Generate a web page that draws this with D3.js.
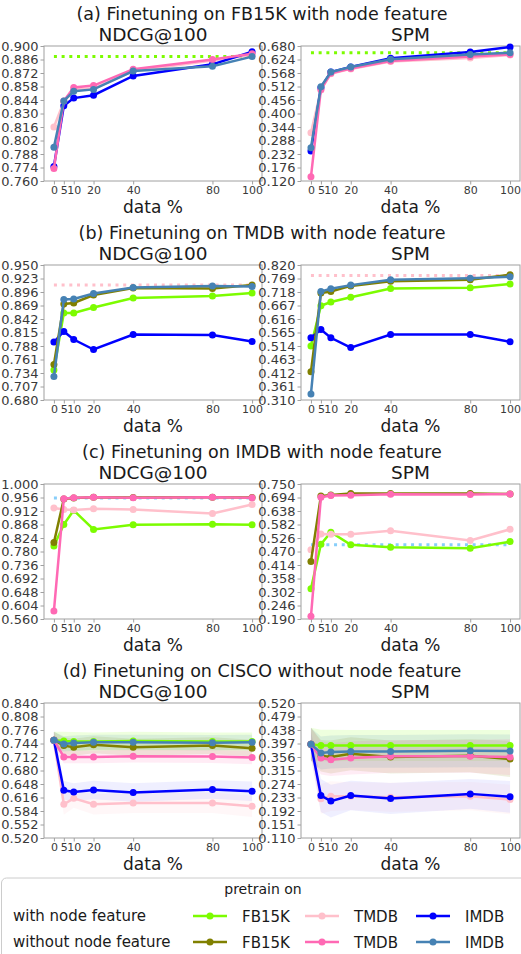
<!DOCTYPE html>
<html>
<head>
<meta charset="utf-8">
<script src="https://cdn.jsdelivr.net/npm/d3@7"></script>
<style>
  body { margin: 0; background: #fff; }
  text { font-family: "DejaVu Sans", sans-serif; }
</style>
</head>
<body>
<svg id="chart" width="521" height="954"></svg>
<script>
//x values and tick labels
var xs = [0, 5, 10, 20, 40, 80, 100];
var xTickLabels = ["0", "5", "10", "20", "40", "80", "100"];

//Panel titles and y ranges
var panelTitles = ["(a) Finetuning on FB15K with node feature",
                   "(b) Finetuning on TMDB with node feature",
                   "(c) Finetuning on IMDB with node feature",
                   "(d) Finetuning on CISCO without node feature"];
var metricNames = ["NDCG@100", "SPM"];
var ndcgRanges = [[0.760, 0.900], [0.680, 0.950], [0.560, 1.000], [0.520, 0.840]];
var spmRanges = [[0.120, 0.680], [0.310, 0.820], [0.190, 0.750], [0.110, 0.520]];

//(a) FB15K
var aNdcgTmdbW = [0.816, 0.842, 0.855, 0.856, 0.874, 0.885, 0.891];
var aNdcgImdbW = [0.775, 0.838, 0.846, 0.849, 0.869, 0.881, 0.894];
var aNdcgTmdbWo = [0.773, 0.843, 0.857, 0.859, 0.876, 0.886, 0.892];
var aNdcgImdbWo = [0.795, 0.843, 0.853, 0.855, 0.874, 0.879, 0.889];
var aNdcgBase = 0.889;
var aSpmTmdbW = [0.320, 0.497, 0.565, 0.585, 0.616, 0.630, 0.643];
var aSpmImdbW = [0.244, 0.507, 0.572, 0.593, 0.629, 0.655, 0.676];
var aSpmTmdbWo = [0.138, 0.500, 0.567, 0.587, 0.618, 0.636, 0.645];
var aSpmImdbWo = [0.258, 0.511, 0.572, 0.593, 0.625, 0.645, 0.652];
var aSpmBase = 0.652;

//(b) TMDB
var bNdcgFbW = [0.740, 0.854, 0.854, 0.865, 0.884, 0.888, 0.894];
var bNdcgImdbW = [0.796, 0.817, 0.801, 0.781, 0.811, 0.810, 0.797];
var bNdcgFbWo = [0.751, 0.872, 0.874, 0.890, 0.904, 0.903, 0.910];
var bNdcgImdbWo = [0.727, 0.881, 0.882, 0.893, 0.905, 0.908, 0.907];
var bNdcgBase = 0.910;
var bSpmFbW = [0.514, 0.666, 0.680, 0.698, 0.731, 0.734, 0.748];
var bSpmImdbW = [0.545, 0.576, 0.545, 0.508, 0.557, 0.557, 0.530];
var bSpmFbWo = [0.417, 0.714, 0.720, 0.741, 0.759, 0.764, 0.783];
var bSpmImdbWo = [0.333, 0.720, 0.730, 0.744, 0.764, 0.770, 0.776];
var bSpmBase = 0.780;

//(c) IMDB
var cNdcgFbW = [0.798, 0.868, 0.914, 0.852, 0.867, 0.869, 0.867];
var cNdcgTmdbW = [0.922, 0.917, 0.915, 0.919, 0.917, 0.904, 0.933];
var cNdcgFbWo = [0.809, 0.951, 0.954, 0.957, 0.956, 0.957, 0.956];
var cNdcgTmdbWo = [0.586, 0.952, 0.955, 0.957, 0.955, 0.957, 0.955];
var cNdcgBase = 0.954;
var cSpmFbW = [0.315, 0.500, 0.550, 0.498, 0.488, 0.484, 0.511];
var cSpmTmdbW = [0.477, 0.543, 0.542, 0.542, 0.556, 0.516, 0.562];
var cSpmFbWo = [0.429, 0.700, 0.704, 0.711, 0.711, 0.711, 0.709];
var cSpmTmdbWo = [0.201, 0.695, 0.702, 0.703, 0.707, 0.706, 0.709];
var cSpmBase = 0.498;

//(d) CISCO, means and spreads
var dNdcgFbW = [0.752, 0.750, 0.749, 0.749, 0.750, 0.749, 0.749];
var dNdcgTmdbW = [0.752, 0.600, 0.614, 0.600, 0.603, 0.603, 0.595];
var dNdcgImdbW = [0.752, 0.633, 0.629, 0.634, 0.628, 0.635, 0.631];
var dNdcgFbWo = [0.752, 0.739, 0.735, 0.741, 0.735, 0.739, 0.733];
var dNdcgTmdbWo = [0.752, 0.712, 0.712, 0.712, 0.714, 0.713, 0.711];
var dNdcgImdbWo = [0.752, 0.743, 0.745, 0.747, 0.747, 0.746, 0.747];
var dNdcgFbWSd = [0.020, 0.022, 0.022, 0.021, 0.022, 0.021, 0.021];
var dNdcgTmdbWSd = [0.020, 0.025, 0.022, 0.024, 0.024, 0.024, 0.025];
var dNdcgImdbWSd = [0.020, 0.022, 0.021, 0.022, 0.022, 0.022, 0.023];
var dNdcgFbWoSd = [0.020, 0.020, 0.020, 0.020, 0.020, 0.020, 0.020];
var dNdcgTmdbWoSd = [0.020, 0.015, 0.015, 0.015, 0.015, 0.015, 0.016];
var dNdcgImdbWoSd = [0.020, 0.018, 0.018, 0.018, 0.018, 0.018, 0.018];
var dSpmFbW = [0.395, 0.391, 0.391, 0.391, 0.391, 0.391, 0.391];
var dSpmTmdbW = [0.395, 0.229, 0.237, 0.237, 0.234, 0.237, 0.227];
var dSpmImdbW = [0.395, 0.239, 0.222, 0.239, 0.230, 0.244, 0.235];
var dSpmFbWo = [0.395, 0.360, 0.356, 0.366, 0.356, 0.360, 0.350];
var dSpmTmdbWo = [0.395, 0.353, 0.348, 0.353, 0.358, 0.358, 0.356];
var dSpmImdbWo = [0.395, 0.368, 0.371, 0.373, 0.373, 0.375, 0.374];
var dSpmFbWSd = [0.050, 0.048, 0.048, 0.047, 0.047, 0.047, 0.047];
var dSpmTmdbWSd = [0.040, 0.045, 0.045, 0.042, 0.044, 0.043, 0.045];
var dSpmImdbWSd = [0.040, 0.050, 0.050, 0.045, 0.047, 0.045, 0.048];
var dSpmFbWoSd = [0.050, 0.048, 0.050, 0.050, 0.050, 0.050, 0.055];
var dSpmTmdbWoSd = [0.050, 0.050, 0.050, 0.050, 0.050, 0.050, 0.055];
var dSpmImdbWoSd = [0.050, 0.050, 0.050, 0.050, 0.050, 0.050, 0.050];

//Series styling
var seriesKeys = ["fbW", "tmdbW", "imdbW", "fbWo", "tmdbWo", "imdbWo"];
var seriesNames = ["FB15K", "TMDB", "IMDB", "FB15K", "TMDB", "IMDB"];
var seriesColors = ["#7cfc00", "#ffc0cb", "#0000ff", "#808000", "#ff69b4", "#4682b4"];
var baseColors = ["#7cfc00", "#ffc0cb", "#87cefa", null];

//Build the panel table from the arrays above
function pack(keys, vals, sds) {
  return keys.map(function (k, i) {
    return { key: k, values: vals[i], sd: sds ? sds[i] : null };
  });
}
var panels = [
  { ndcg: pack(["tmdbW", "imdbW", "tmdbWo", "imdbWo"], [aNdcgTmdbW, aNdcgImdbW, aNdcgTmdbWo, aNdcgImdbWo]),
    spm: pack(["tmdbW", "imdbW", "tmdbWo", "imdbWo"], [aSpmTmdbW, aSpmImdbW, aSpmTmdbWo, aSpmImdbWo]),
    base: [aNdcgBase, aSpmBase] },
  { ndcg: pack(["fbW", "imdbW", "fbWo", "imdbWo"], [bNdcgFbW, bNdcgImdbW, bNdcgFbWo, bNdcgImdbWo]),
    spm: pack(["fbW", "imdbW", "fbWo", "imdbWo"], [bSpmFbW, bSpmImdbW, bSpmFbWo, bSpmImdbWo]),
    base: [bNdcgBase, bSpmBase] },
  { ndcg: pack(["fbW", "tmdbW", "fbWo", "tmdbWo"], [cNdcgFbW, cNdcgTmdbW, cNdcgFbWo, cNdcgTmdbWo]),
    spm: pack(["fbW", "tmdbW", "fbWo", "tmdbWo"], [cSpmFbW, cSpmTmdbW, cSpmFbWo, cSpmTmdbWo]),
    base: [cNdcgBase, cSpmBase] },
  { ndcg: pack(seriesKeys, [dNdcgFbW, dNdcgTmdbW, dNdcgImdbW, dNdcgFbWo, dNdcgTmdbWo, dNdcgImdbWo],
                [dNdcgFbWSd, dNdcgTmdbWSd, dNdcgImdbWSd, dNdcgFbWoSd, dNdcgTmdbWoSd, dNdcgImdbWoSd]),
    spm: pack(seriesKeys, [dSpmFbW, dSpmTmdbW, dSpmImdbW, dSpmFbWo, dSpmTmdbWo, dSpmImdbWo],
                [dSpmFbWSd, dSpmTmdbWSd, dSpmImdbWSd, dSpmFbWoSd, dSpmTmdbWoSd, dSpmImdbWoSd]),
    base: null }
];

//Layout
var svg = d3.select("#chart");
var panelTops = [46, 265, 484, 703],
    plotH = 135,
    colX = [[44, 262], [301, 520]];
var frameColor = "#a0a0a0", tickText = "#3a3a3a";

function colorOf(key) { return seriesColors[seriesKeys.indexOf(key)]; }

panels.forEach(function (p, pi) {
  var top = panelTops[pi];

  //Panel title
  svg.append("text")
    .attr("x", 262).attr("y", top - 26)
    .attr("text-anchor", "middle")
    .style("font-size", "17.5px").style("fill", "#1a1a1a")
    .text(panelTitles[pi]);

  [p.ndcg, p.spm].forEach(function (series, mi) {
    var range = mi == 0 ? ndcgRanges[pi] : spmRanges[pi];
    var left = colX[mi][0], right = colX[mi][1];
    var pad = (right - left) / 22;
    var x = d3.scaleLinear().domain([0, 100]).range([left + pad, right - pad]);
    var y = d3.scaleLinear().domain(range).range([top + plotH, top]);
    var g = svg.append("g");

    //Metric title
    g.append("text")
      .attr("x", (left + right) / 2).attr("y", top - 5)
      .attr("text-anchor", "middle")
      .style("font-size", "18.5px").style("fill", "#1a1a1a")
      .text(metricNames[mi]);

    //Axes
    var yTicks = d3.range(11).map(function (i) { return range[0] + (range[1] - range[0]) * i / 10; });
    var yAxis = g.append("g")
      .attr("transform", "translate(" + left + ",0)")
      .call(d3.axisLeft(y).tickValues(yTicks).tickFormat(d3.format(".3f")).tickSizeOuter(0).tickSize(3.5).tickPadding(2));
    yAxis.selectAll("text").style("font-size", "13px").style("fill", tickText).attr("font-family", null);
    var xAxis = g.append("g")
      .attr("transform", "translate(0," + (top + plotH) + ")")
      .call(d3.axisBottom(x).tickValues(xs).tickFormat(function (d, i) { return xTickLabels[i]; }).tickSizeOuter(0).tickSize(3.5).tickPadding(2));
    xAxis.selectAll("text").style("font-size", "11px").style("fill", tickText).attr("font-family", null);
    g.selectAll(".domain").remove();
    g.selectAll(".tick line").attr("stroke", frameColor);

    g.append("rect")
      .attr("x", left).attr("y", top)
      .attr("width", right - left).attr("height", plotH)
      .attr("fill", "none").attr("stroke", frameColor).attr("stroke-width", 1);

    g.append("text")
      .attr("x", (left + right) / 2).attr("y", top + plotH + 32)
      .attr("text-anchor", "middle")
      .style("font-size", "17px").style("fill", "#1a1a1a")
      .text("data %");

    //Spread bands
    series.forEach(function (s) {
      if (!s.sd) return;
      var area = d3.area()
        .x(function (d, i) { return x(xs[i]); })
        .y0(function (d, i) { return y(d - s.sd[i]); })
        .y1(function (d, i) { return y(d + s.sd[i]); });
      g.append("path").datum(s.values)
        .attr("d", area)
        .attr("fill", colorOf(s.key) == "#0000ff" ? "#8080ff" : colorOf(s.key))
        .attr("fill-opacity", 0.13);
    });

    //Dotted baseline
    if (p.base) {
      g.append("line")
        .attr("x1", x(0)).attr("x2", x(100))
        .attr("y1", y(p.base[mi])).attr("y2", y(p.base[mi]))
        .attr("stroke", baseColors[pi]).attr("stroke-width", 3)
        .attr("stroke-dasharray", "3,4.7");
    }

    //Lines and markers
    var line = d3.line().x(function (d, i) { return x(xs[i]); }).y(function (d) { return y(d); });
    series.forEach(function (s) {
      var c = colorOf(s.key);
      g.append("path").datum(s.values)
        .attr("d", line)
        .attr("fill", "none").attr("stroke", c).attr("stroke-width", 2.5);
      g.selectAll(null).data(s.values).enter().append("circle")
        .attr("cx", function (d, i) { return x(xs[i]); })
        .attr("cy", function (d) { return y(d); })
        .attr("r", 3.5).attr("fill", c);
    });
  });
});

//Legend
var lg = svg.append("g");
lg.append("rect")
  .attr("x", 1.5).attr("y", 878).attr("width", 530).attr("height", 90)
  .attr("rx", 5).attr("fill", "#fff").attr("stroke", "#cccccc");
lg.append("text")
  .attr("x", 263).attr("y", 894)
  .attr("text-anchor", "middle")
  .style("font-size", "14px").style("fill", "#1a1a1a")
  .text("pretrain on");
var rowLabels = ["with node feature", "without node feature"];
var rowY = [916, 942];
var entryX = [193, 305, 416];
rowLabels.forEach(function (lab, r) {
  lg.append("text")
    .attr("x", 13).attr("y", rowY[r] + 5)
    .style("font-size", "15px").style("fill", "#1a1a1a")
    .text(lab);
  for (var j = 0; j < 3; j++) {
    var k = r * 3 + j;
    lg.append("line")
      .attr("x1", entryX[j]).attr("x2", entryX[j] + 34)
      .attr("y1", rowY[r]).attr("y2", rowY[r])
      .attr("stroke", seriesColors[k]).attr("stroke-width", 2.5);
    lg.append("circle")
      .attr("cx", entryX[j] + 17).attr("cy", rowY[r])
      .attr("r", 3.5).attr("fill", seriesColors[k]);
    lg.append("text")
      .attr("x", entryX[j] + 49).attr("y", rowY[r] + 6)
      .style("font-size", "15px").style("fill", "#1a1a1a")
      .text(seriesNames[k]);
  }
});
</script>
</body>
</html>
